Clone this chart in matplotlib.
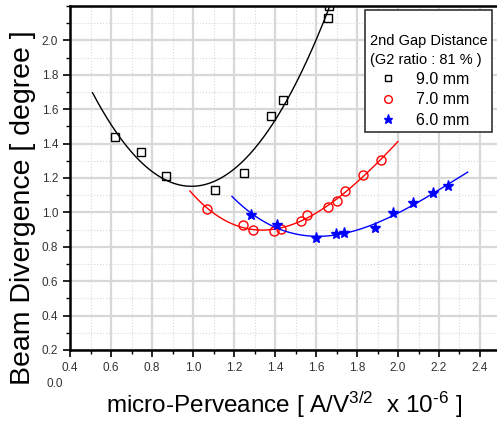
import numpy as np
import matplotlib
matplotlib.use("Agg")
import matplotlib.pyplot as plt
from matplotlib.ticker import MultipleLocator

plt.rcParams['font.family'] = ['Liberation Sans', 'DejaVu Sans']
plt.rcParams['mathtext.fontset'] = 'custom'
plt.rcParams['mathtext.rm'] = 'Liberation Sans'
plt.rcParams['mathtext.default'] = 'regular'

# 9.0 mm gap
x_90 = [0.618, 0.748, 0.868, 1.109, 1.249, 1.379, 1.437, 1.659, 1.662]
y_90 = [1.440, 1.349, 1.212, 1.130, 1.231, 1.562, 1.651, 2.132, 2.200]
# 7.0 mm gap
x_70 = [1.070, 1.242, 1.294, 1.395, 1.428, 1.527, 1.555, 1.657, 1.701, 1.743, 1.829, 1.917]
y_70 = [1.020, 0.929, 0.896, 0.892, 0.902, 0.950, 0.983, 1.031, 1.068, 1.124, 1.219, 1.303]
# 6.0 mm gap
x_60 = [1.284, 1.411, 1.598, 1.696, 1.738, 1.888, 1.974, 2.072, 2.171, 2.244]
y_60 = [0.985, 0.929, 0.851, 0.873, 0.878, 0.907, 0.995, 1.056, 1.113, 1.155]

# ranges of the fitted curves
fit_range = {'9.0': (0.51, 1.70), '7.0': (0.985, 2.0), '6.0': (1.19, 2.34)}

fig = plt.figure(figsize=(4.97, 4.21), dpi=100)
ax = fig.add_axes([70/497, 1-350/421, (497-70)/497, 344/421])

series = [
    ('9.0', x_90, y_90, 'black', 's', 5.5, 'none'),
    ('7.0', x_70, y_70, 'red', 'o', 6.5, 'none'),
    ('6.0', x_60, y_60, 'blue', '*', 8, 'blue'),
]
for name, xs, ys, col, mk, ms, fc in series:
    c = np.polyfit(xs, ys, 3)
    xf = np.linspace(*fit_range[name], 200)
    ax.plot(xf, np.polyval(c, xf), color=col, lw=1.0)
    ax.plot(xs, ys, ls='none', marker=mk, ms=ms, mfc=fc, mec=col, mew=1.0,
            label=name + ' mm')

ax.set_xlim(0.4, 0.4 + 427/205)
ax.set_ylim(0.2, 2.2)
ax.set_xticks(np.arange(0.4, 2.41, 0.2))
ax.set_yticks(np.arange(0.2, 2.01, 0.2))
ax.xaxis.set_minor_locator(MultipleLocator(0.1))
ax.yaxis.set_minor_locator(MultipleLocator(0.1))
ax.grid(which='major', color='#d8d8d8', lw=1.6)
ax.grid(which='minor', color='#d8d8d8', lw=0.8, ls=':')
ax.set_axisbelow(True)
ax.spines['right'].set_visible(False)
for s in ['left', 'bottom', 'top']:
    ax.spines[s].set_linewidth(1.8)
ax.tick_params(which='major', direction='out', length=5, width=1.2,
               labelsize=8.5, labelcolor='#333333')
ax.tick_params(which='minor', direction='out', length=3, width=1.0)
ax.xaxis.set_major_formatter(plt.FormatStrFormatter('%.1f'))
ax.yaxis.set_major_formatter(plt.FormatStrFormatter('%.1f'))

ax.set_ylabel('Beam Divergence [ degree ]', fontsize=20.5, va='center')
ax.yaxis.set_label_coords((23-70)/427, (350-208)/344)
ax.set_xlabel(r'micro-Perveance [ A/V$^{3/2}$  x 10$^{\text{-}6}$ ]', fontsize=17.5, va='center')
ax.xaxis.set_label_coords((284-70)/427, (350-405)/344)
fig.text(55/497, 1-384/421, '0.0', fontsize=8.5, color='#333333', ha='center', va='center')

leg = ax.legend(title='\n2nd Gap Distance\n(G2 ratio : 81 % )', loc='upper right',
                bbox_to_anchor=(492/497, 1-10/421), bbox_transform=fig.transFigure,
                fontsize=11.5, title_fontsize=10.5, frameon=True, fancybox=False,
                handlelength=2.3, handletextpad=0.6, borderaxespad=0, borderpad=0.3,
                labelspacing=0.33, markerscale=0.85)
leg.get_title().set_linespacing(1.45)
leg.get_frame().set_edgecolor('#333333')
leg.get_frame().set_linewidth(1.2)
leg.get_frame().set_alpha(1)
leg._legend_box.align = 'left'

fig.savefig('out.png', dpi=100)
